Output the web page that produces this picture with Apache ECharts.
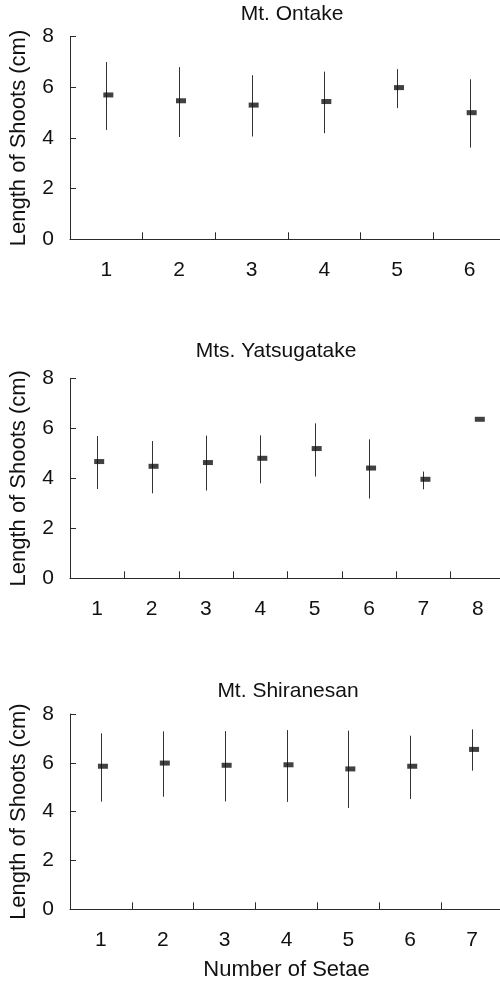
<!DOCTYPE html>
<html>
<head>
<meta charset="utf-8">
<script src="https://cdn.jsdelivr.net/npm/echarts@6/dist/echarts.min.js"></script>
<style>html,body{margin:0;padding:0;background:#fff;overflow:hidden}#c{width:510px;height:984px}</style>
</head>
<body>
<div id="c"></div>
<script>
// Panel titles
const titles = ['Mt. Ontake', 'Mts. Yatsugatake', 'Mt. Shiranesan'];
const yTicks = [0, 2, 4, 6, 8];

// Mt. Ontake
const catsA = ['1', '2', '3', '4', '5', '6'];
const meanA = [5.70, 5.47, 5.30, 5.44, 5.99, 5.00];
const lowA  = [4.32, 4.04, 4.06, 4.19, 5.18, 3.62];
const highA = [7.00, 6.80, 6.48, 6.62, 6.72, 6.32];

// Mts. Yatsugatake
const catsB = ['1', '2', '3', '4', '5', '6', '7', '8'];
const meanB = [4.67, 4.48, 4.63, 4.80, 5.19, 4.41, 3.96, 6.36];
const lowB  = [3.57, 3.40, 3.51, 3.80, 4.07, 3.19, 3.56, null];
const highB = [5.69, 5.49, 5.71, 5.72, 6.20, 5.56, 4.27, null];

// Mt. Shiranesan
const catsC = ['1', '2', '3', '4', '5', '6', '7'];
const meanC = [5.86, 5.99, 5.90, 5.92, 5.75, 5.86, 6.55];
const lowC  = [4.41, 4.61, 4.42, 4.40, 4.15, 4.52, 5.68];
const highC = [7.21, 7.29, 7.30, 7.34, 7.32, 7.11, 7.37];

const FONT = 'Liberation Sans, Arial, sans-serif';
const INK = '#111';
const AX = '#2a2a2a';

const panels = [
  {cats: catsA, mean: meanA, low: lowA, high: highA, grid: {left: 69.5, top: 36.7, width: 436.5, height: 202.6}, titleX: 292, titleY: 4},
  {cats: catsB, mean: meanB, low: lowB, high: highB, grid: {left: 67.7, top: 378.3, width: 437.3, height: 200}, titleX: 276, titleY: 341},
  {cats: catsC, mean: meanC, low: lowC, high: highC, grid: {left: 67, top: 714, width: 436, height: 195.3}, titleX: 288, titleY: 681}
];

const grids = [], xAxes = [], yAxes = [], series = [], graphics = [];
panels.forEach((p, k) => {
  grids.push(Object.assign({containLabel: false}, p.grid));
  xAxes.push({
    type: 'category', gridIndex: k, data: p.cats,
    name: k === 2 ? 'Number of Setae' : '',
    nameLocation: 'middle', nameGap: 50,
    nameTextStyle: {fontSize: 22, color: INK, fontFamily: FONT},
    axisLine: {lineStyle: {color: AX, width: 1}},
    axisTick: {show: true, inside: true, length: 7, lineStyle: {color: AX}},
    axisLabel: {fontSize: 21, color: INK, margin: 20, fontFamily: FONT},
    splitLine: {show: false}
  });
  yAxes.push({
    type: 'value', gridIndex: k, min: yTicks[0], max: yTicks[yTicks.length - 1], interval: yTicks[1] - yTicks[0],
    name: 'Length of Shoots (cm)', nameLocation: 'middle', nameGap: 40,
    nameTextStyle: {fontSize: 22, color: INK, fontFamily: FONT},
    axisLine: {show: true, lineStyle: {color: AX, width: 1}},
    axisTick: {show: true, inside: true, length: 6, lineStyle: {color: AX}},
    axisLabel: {fontSize: 21, color: INK, margin: 16, fontFamily: FONT},
    splitLine: {show: false}
  });
  const errData = [];
  p.cats.forEach((c, i) => { if (p.low[i] != null && p.high[i] != null) errData.push([i, p.low[i], p.high[i]]); });
  series.push({
    type: 'custom', xAxisIndex: k, yAxisIndex: k, z: 1,
    encode: {x: 0, y: [1, 2]},
    data: errData,
    renderItem: function (params, api) {
      const a = api.coord([api.value(0), api.value(1)]);
      const b = api.coord([api.value(0), api.value(2)]);
      const x = Math.round(a[0]) + 0.5;
      return {type: 'line', shape: {x1: x, y1: a[1], x2: x, y2: b[1]}, style: {stroke: '#333', lineWidth: 1}};
    }
  });
  series.push({
    type: 'scatter', xAxisIndex: k, yAxisIndex: k, z: 3,
    symbol: 'rect', symbolSize: [10, 5], symbolOffset: [2, 0],
    itemStyle: {color: INK},
    data: p.mean.map((v, i) => [i, v])
  });
  graphics.push({
    type: 'text', x: p.titleX, y: p.titleY,
    style: {text: titles[k], textAlign: 'center', textVerticalAlign: 'top', fontSize: 21, fontFamily: FONT, fill: INK}
  });
});

const chart = echarts.init(document.getElementById('c'), null, {renderer: 'canvas'});
chart.setOption({
  backgroundColor: '#fff',
  animation: false,
  grid: grids, xAxis: xAxes, yAxis: yAxes, series: series,
  graphic: graphics
});
</script>
</body>
</html>
